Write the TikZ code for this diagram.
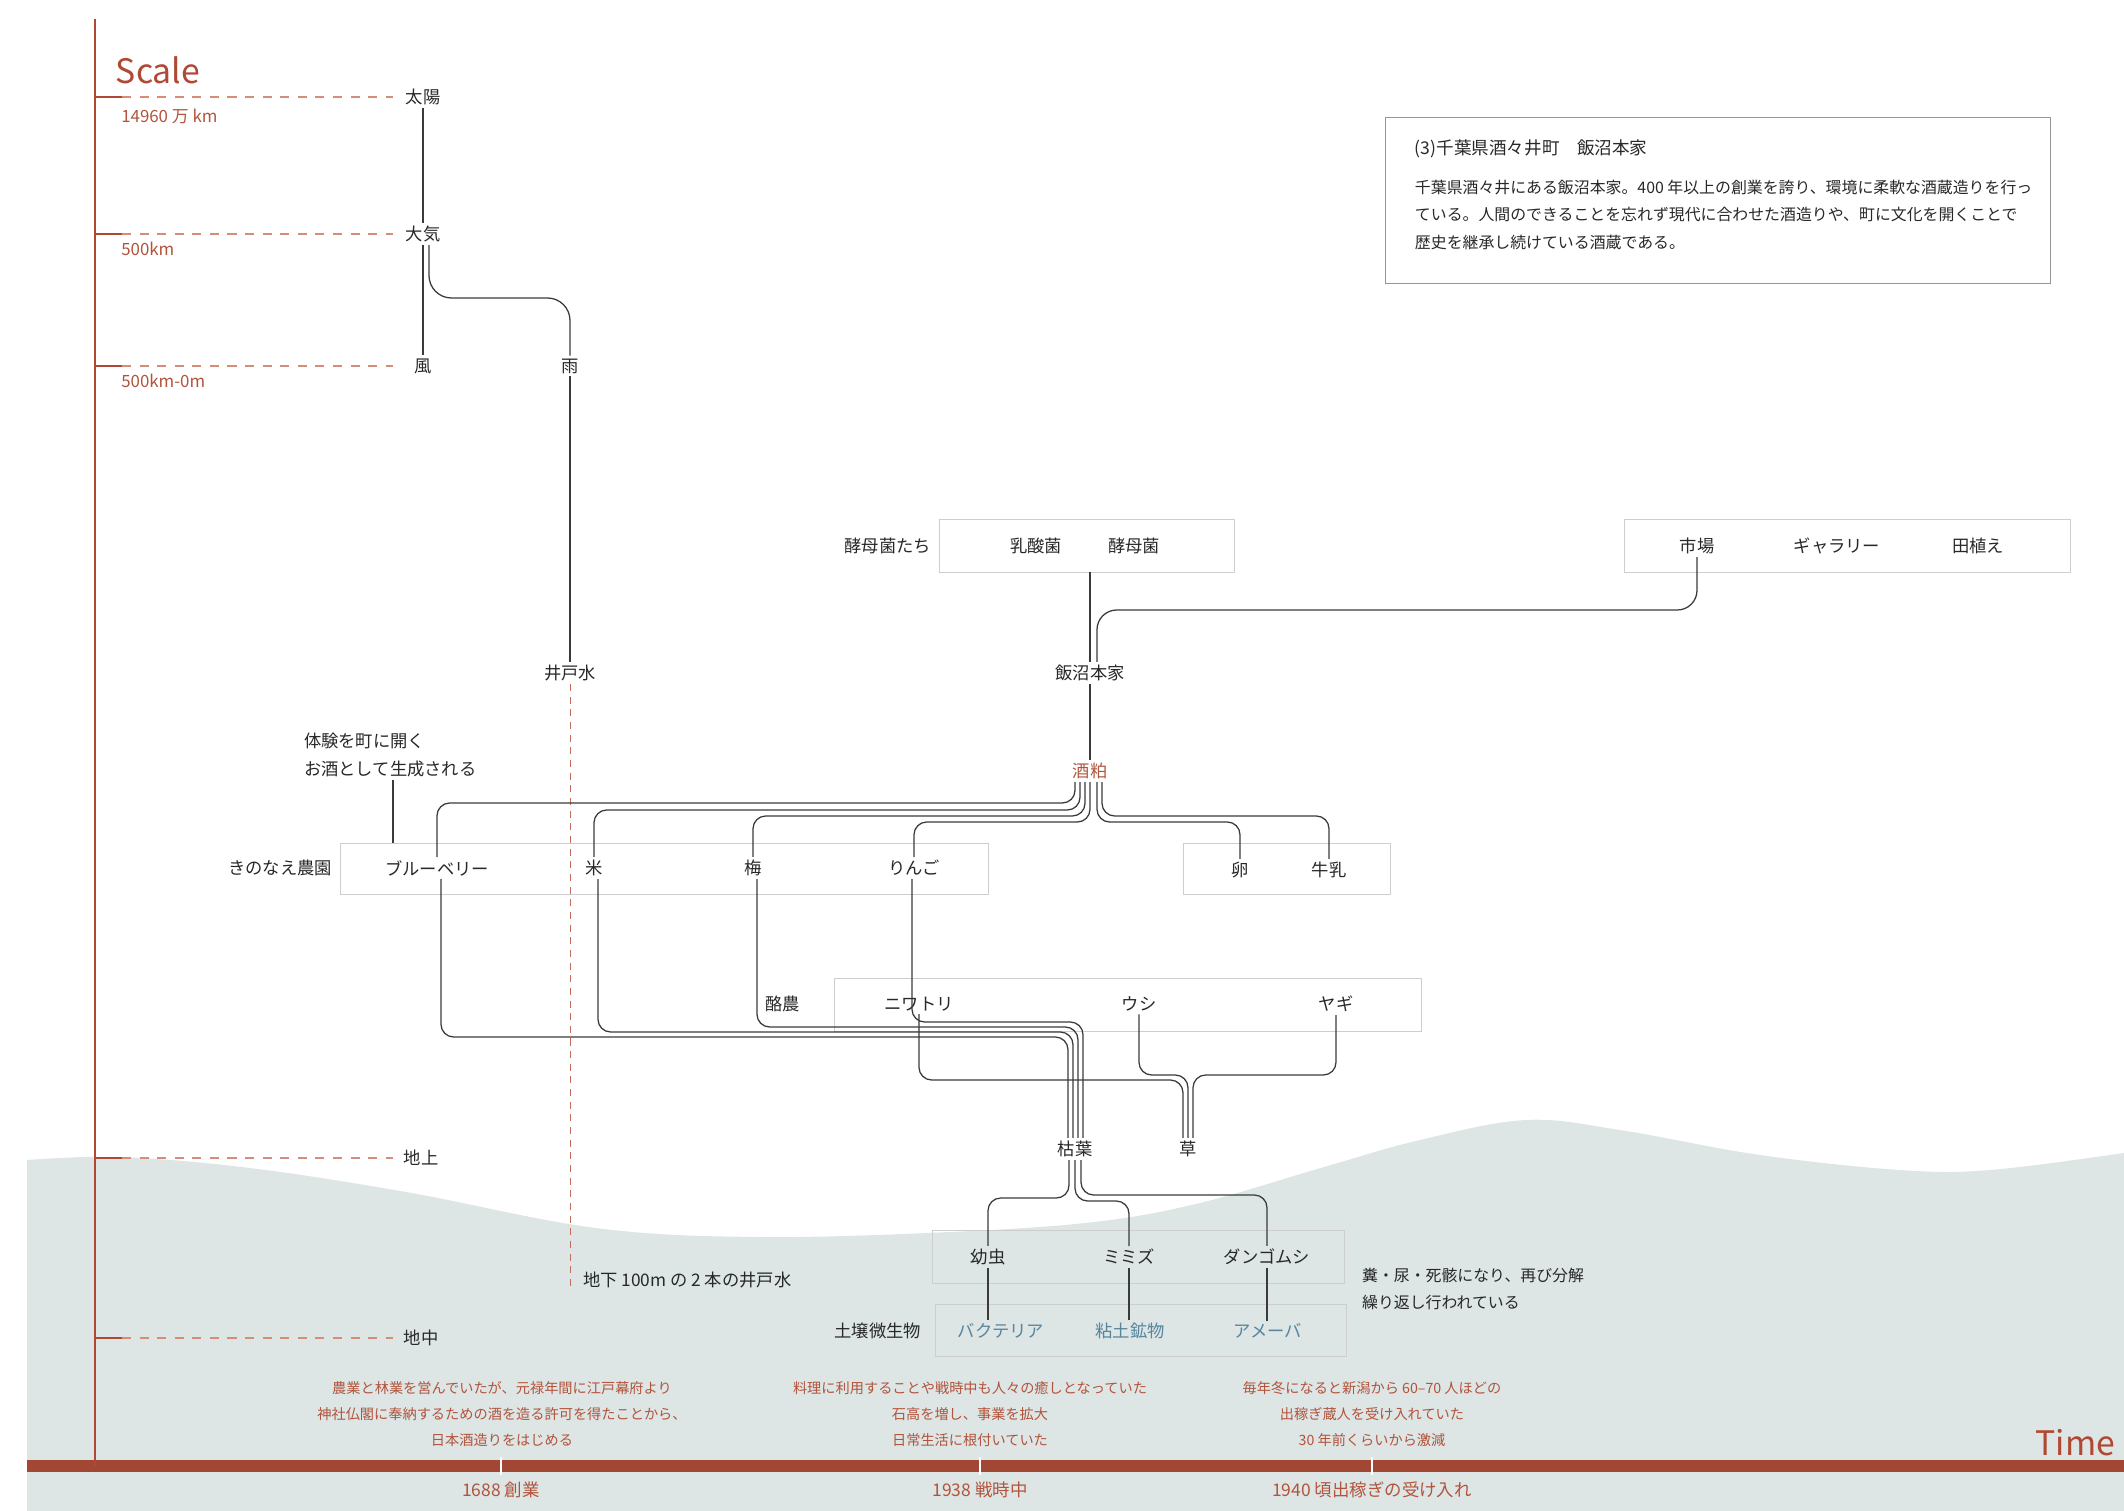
\documentclass[tikz,border=0pt]{standalone}
\usepackage{fontspec}
\setmainfont{Noto Sans CJK JP}
\definecolor{soil}{RGB}{221,229,229}
\definecolor{axisred}{RGB}{176,72,52}
\definecolor{dashred}{RGB}{214,140,118}
\definecolor{barred}{RGB}{161,71,52}
\definecolor{notered}{RGB}{178,84,60}
\definecolor{linkgray}{RGB}{58,58,58}
\definecolor{boxgray}{RGB}{206,206,206}
\definecolor{infogray}{RGB}{150,150,150}
\definecolor{microblue}{RGB}{86,134,158}
\definecolor{labelgray}{RGB}{40,40,40}
\tikzset{
  lbl/.style={font=\fontsize{12.3}{19.5}\selectfont, text=labelgray, inner sep=2pt},
  grp/.style 2 args={draw=boxgray, line width=0.7pt, inner sep=0pt, outer sep=0pt,
    minimum width=#1*0.025cm, minimum height=#2*0.025cm},
  link/.style={draw=linkgray, line width=0.9pt, rounded corners=9pt},
  tickmark/.style={draw=axisred, line width=2pt},
  leveldash/.style={draw=dashred, line width=1pt, dash pattern=on 6.5pt off 6pt},
  welldash/.style={draw=axisred!80, line width=0.7pt, dash pattern=on 5pt off 4pt},
  scaleval/.style={anchor=west, text=notered, font=\fontsize{12}{14}\selectfont, inner sep=0pt},
  note/.style={align=center, text=notered, font=\fontsize{10.1}{18.5}\selectfont},
  era/.style={text=notered, font=\fontsize{12.4}{14}\selectfont},
  eragap/.style={draw=white, line width=1.6pt}
}
\begin{document}
\begin{tikzpicture}[x=0.025cm,y=-0.025cm]
\useasboundingbox (0,0) rectangle (2124,1511);
\fill[soil] (27,1511) -- plot[smooth,tension=0.6] coordinates {(27,1160) (120,1157) (250,1168) (406,1192) (596,1228) (760,1237) (950,1232) (1094,1222) (1200,1203) (1324,1167) (1420,1140) (1526,1120) (1620,1130) (1760,1155) (1900,1170) (1990,1170) (2124,1153)} -- (2124,1511) -- cycle;
\fill[barred] (27,1460) rectangle (2124,1472);
\draw[axisred, line width=1.3pt] (95,19) -- (95,1466);
\node[anchor=west, text=axisred, font=\fontsize{24}{26}\selectfont] (scale) at (111,70) {Scale};
\node[anchor=east, text=axisred, font=\fontsize{24}{26}\selectfont] (time) at (2120,1443) {Time};

\node[lbl] (taiyo) at (423,97) {太陽};
\node[lbl] (taiki) at (423,234) {大気};
\node[lbl] (kaze) at (423,366) {風};
\node[lbl] (chijo) at (421,1158) {地上};
\node[lbl] (chichu) at (421,1338) {地中};
\draw[tickmark] (95,0 |- taiyo) -- (122,0 |- taiyo); \draw[leveldash] (122,0 |- taiyo) -- (393,0 |- taiyo);
\draw[tickmark] (95,0 |- taiki) -- (122,0 |- taiki); \draw[leveldash] (122,0 |- taiki) -- (393,0 |- taiki);
\draw[tickmark] (95,0 |- kaze) -- (122,0 |- kaze); \draw[leveldash] (122,0 |- kaze) -- (393,0 |- kaze);
\draw[tickmark] (95,0 |- chijo) -- (122,0 |- chijo); \draw[leveldash] (122,0 |- chijo) -- (393,0 |- chijo);
\draw[tickmark] (95,0 |- chichu) -- (122,0 |- chichu); \draw[leveldash] (122,0 |- chichu) -- (393,0 |- chichu);
\node[scaleval] (dist1) at (121,116) {14960 万 km};
\node[scaleval] (dist2) at (121,249) {500km};
\node[scaleval] (dist3) at (121,381) {500km-0m};

\node[lbl] (ame) at (570,366) {雨};
\node[lbl] (ido) at (570,673) {井戸水};
\node[lbl, anchor=west] (well) at (580,1280) {地下 100m の 2 本の井戸水};
\coordinate (wellend) at (570,1290);
\draw[link] (taiyo.south) -- (taiki.north);
\draw[link] (taiki.south) -- (kaze.north);
\draw[link, rounded corners=16pt] (429,0 |- taiki.south) -- (429,298) -- (ame.north |- 0,298) -- (ame.north);
\draw[link] (ame.south) -- (ido.north);
\draw[welldash] (ido.south) -- (wellend);

\node[draw=infogray, line width=0.7pt, inner sep=0pt, minimum width=16.6cm, minimum height=4.125cm] (infobox) at (1718,200.5) {};
\node[anchor=west, text=labelgray, font=\fontsize{12.5}{15}\selectfont] (infotitle) at (1410,149) {(3)千葉県酒々井町　飯沼本家};
\node[anchor=north west, align=left, text=labelgray, font=\fontsize{11.3}{19.5}\selectfont] (infotext) at (1410,175) {千葉県酒々井にある飯沼本家。400 年以上の創業を誇り、環境に柔軟な酒蔵造りを行っ\\ている。人間のできることを忘れず現代に合わせた酒造りや、町に文化を開くことで\\歴史を継承し続けている酒蔵である。};

\node[grp={295}{53}] (yeastbox) at (1086.5,545.5) {};
\node[lbl, anchor=east] (yeastlbl) at (934,546) {酵母菌たち};
\node[lbl] (nyusan) at (1036,546) {乳酸菌};
\node[lbl] (kobo) at (1134,546) {酵母菌};
\node[grp={446}{53}] (marketbox) at (1847,545.5) {};
\node[lbl] (ichiba) at (1697,546) {市場};
\node[lbl] (gallery) at (1837,546) {ギャラリー};
\node[lbl] (taue) at (1978,546) {田植え};
\node[lbl] (iinuma) at (1090,673) {飯沼本家};
\node[lbl, text=notered] (sake) at (1090,771) {酒粕};
\draw[link] (yeastbox.south -| iinuma) -- (iinuma.north);
\draw[link, rounded corners=14pt] (ichiba.south) |- (1097,610) -- (1097,0 |- iinuma.north);
\draw[link] (iinuma.south) -- (sake.north);

\node[grp={648}{51}] (farmbox) at (664,868.5) {};
\node[lbl, anchor=east] (farmlbl) at (335,868) {きのなえ農園};
\node[lbl] (blue) at (437,868) {ブルーベリー};
\node[lbl] (kome) at (594,868) {米};
\node[lbl] (ume) at (753,868) {梅};
\node[lbl] (ringo) at (914,868) {りんご};
\node[lbl, align=left, anchor=west] (taiken) at (301,755) {体験を町に開く\\お酒として生成される};
\draw[link] (taiken.south -| 393,0) -- (farmbox.north -| 393,0);
\node[grp={207}{51}] (eggbox) at (1286.5,868.5) {};
\node[lbl] (egg) at (1240,870) {卵};
\node[lbl] (milk) at (1329,870) {牛乳};

\draw[link] (1075,0 |- sake.south) -- (1075,803) -- (blue.north |- 0,803) -- (blue.north);
\draw[link] (1080,0 |- sake.south) -- (1080,810) -- (kome.north |- 0,810) -- (kome.north);
\draw[link] (1085,0 |- sake.south) -- (1085,816) -- (ume.north |- 0,816) -- (ume.north);
\draw[link] (1090,0 |- sake.south) -- (1090,822) -- (ringo.north |- 0,822) -- (ringo.north);
\draw[link] (1097,0 |- sake.south) -- (1097,822) -- (egg.north |- 0,822) -- (egg.north);
\draw[link] (1102,0 |- sake.south) -- (1102,816) -- (milk.north |- 0,816) -- (milk.north);

\node[grp={587}{53}] (dairybox) at (1127.5,1004.5) {};
\node[lbl, anchor=east] (dairylbl) at (803,1004) {酪農};
\node[lbl] (niwatori) at (919,1004) {ニワトリ};
\node[lbl] (ushi) at (1139,1004) {ウシ};
\node[lbl] (yagi) at (1336,1004) {ヤギ};
\node[lbl] (kareha) at (1075,1149) {枯葉};
\node[lbl] (kusa) at (1188,1149) {草};
\draw[link] (912,0 |- ringo.south) -- (912,1022) -- (1083,1022) -- (1083,0 |- kareha.north);
\draw[link] (757,0 |- ume.south) -- (757,1027) -- (1078,1027) -- (1078,0 |- kareha.north);
\draw[link] (598,0 |- kome.south) -- (598,1032) -- (1073,1032) -- (1073,0 |- kareha.north);
\draw[link] (441,0 |- blue.south) -- (441,1037) -- (1068,1037) -- (1068,0 |- kareha.north);
\draw[link] (niwatori.south) -- (niwatori.south |- 0,1080) -- (1183,1080) -- (1183,0 |- kusa.north);
\draw[link] (ushi.south) -- (ushi.south |- 0,1075) -- (1188,1075) -- (kusa.north);
\draw[link] (yagi.south) -- (yagi.south |- 0,1075) -- (1193,1075) -- (1193,0 |- kusa.north);

\node[grp={412}{53}] (bugbox) at (1138,1256.5) {};
\node[lbl] (larva) at (988,1257) {幼虫};
\node[lbl] (mimizu) at (1129,1257) {ミミズ};
\node[lbl] (dango) at (1267,1257) {ダンゴムシ};
\draw[link] (1069,0 |- kareha.south) -- (1069,1198) -- (larva.north |- 0,1198) -- (larva.north);
\draw[link] (1075,0 |- kareha.south) -- (1075,1201) -- (mimizu.north |- 0,1201) -- (mimizu.north);
\draw[link] (1081,0 |- kareha.south) -- (1081,1195) -- (dango.north |- 0,1195) -- (dango.north);
\node[grp={411}{52}] (microbox) at (1140.5,1330) {};
\node[lbl, anchor=east] (microlbl) at (924,1331) {土壌微生物};
\node[lbl, text=microblue] (bacteria) at (1001,1331) {バクテリア};
\node[lbl, text=microblue] (clay) at (1130,1331) {粘土鉱物};
\node[lbl, text=microblue] (amoeba) at (1268,1331) {アメーバ};
\draw[link] (larva.south) -- (larva.south |- bacteria.north);
\draw[link] (mimizu.south) -- (mimizu.south |- clay.north);
\draw[link] (dango.south) -- (dango.south |- amoeba.north);
\node[lbl, align=left, anchor=west, font=\fontsize{11.3}{19}\selectfont] (cycle) at (1359,1289) {糞・尿・死骸になり、再び分解\\繰り返し行われている};

\node[note] (note1) at (502,1414) {農業と林業を営んでいたが、元禄年間に江戸幕府より\\神社仏閣に奉納するための酒を造る許可を得たことから、\\日本酒造りをはじめる};
\node[note] (note2) at (970,1414) {料理に利用することや戦時中も人々の癒しとなっていた\\石高を増し、事業を拡大\\日常生活に根付いていた};
\node[note] (note3) at (1372,1414) {毎年冬になると新潟から 60–70 人ほどの\\出稼ぎ蔵人を受け入れていた\\30 年前くらいから激減};
\node[era] (era1) at (501,1490) {1688 創業};
\node[era] (era2) at (980,1490) {1938 戦時中};
\node[era] (era3) at (1372,1490) {1940 頃出稼ぎの受け入れ};
\draw[eragap] (era1.north |- 0,1457) -- (era1.north |- 0,1475);
\draw[eragap] (era2.north |- 0,1457) -- (era2.north |- 0,1475);
\draw[eragap] (era3.north |- 0,1457) -- (era3.north |- 0,1475);
\end{tikzpicture}
\end{document}
